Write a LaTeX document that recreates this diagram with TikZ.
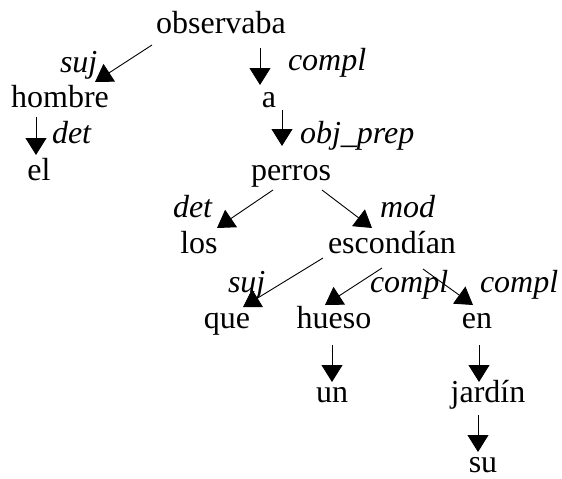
\documentclass[tikz,border=0pt]{standalone}
\usepackage{fontspec}
\setmainfont{Liberation Serif}
\usetikzlibrary{arrows.meta}
\begin{document}
\begin{tikzpicture}[x=1pt,y=-1pt,
  word/.style={anchor=base,inner sep=0pt,outer sep=0pt,font=\fontsize{32}{38}\selectfont},
  rel/.style={anchor=base west,inner sep=0pt,outer sep=0pt,font=\fontsize{32}{38}\selectfont\itshape},
  dep/.style={line width=0.9pt,-{Triangle[length=17pt,width=21pt]}}]
\useasboundingbox (0,0) rectangle (562,479);
% words
\node[word] (observaba) at (221,33) {observaba};
\node[word] (hombre) at (60,107) {hombre};
\node[word] (el) at (39,180) {el};
\node[word] (a) at (269,107) {a};
\node[word] (perros) at (291,180) {perros};
\node[word] (los) at (199,253) {los};
\node[word] (escondian) at (392,253) {escondían};
\node[word] (que) at (227,328) {que};
\node[word] (hueso) at (334,328) {hueso};
\node[word] (en) at (477,328) {en};
\node[word] (un) at (332,402) {un};
\node[word] (jardin) at (488,402) {jardín};
\node[word] (su) at (483,472) {su};
% relation labels
\node[rel] (l1) at (60,72) {suj};
\node[rel] (l2) at (288,70) {compl};
\node[rel] (l3) at (52,143) {det};
\node[rel] (l4) at (300,143) {obj\_prep};
\node[rel] (l5) at (173,217) {det};
\node[rel] (l6) at (380,217) {mod};
\node[rel] (l7) at (228,292) {suj};
\node[rel] (l8) at (370,292) {compl};
\node[rel] (l9) at (480,292) {compl};
% connector ends
\coordinate (c1s) at (152,45);  \coordinate (c1t) at (95,82);
\coordinate (c2s) at (260,48);  \coordinate (c2t) at (260,85);
\coordinate (c3s) at (36,117);  \coordinate (c3t) at (36,155);
\coordinate (c4s) at (282,110); \coordinate (c4t) at (282,146);
\coordinate (c5s) at (273,190); \coordinate (c5t) at (217,228);
\coordinate (c6s) at (322,190); \coordinate (c6t) at (372,228);
\coordinate (c7s) at (323,258); \coordinate (c7t) at (243,307);
\coordinate (c8s) at (382,268); \coordinate (c8t) at (325,305);
\coordinate (c9s) at (423,269); \coordinate (c9t) at (473,305);
\coordinate (c10s) at (332,345); \coordinate (c10t) at (332,382);
\coordinate (c11s) at (479,345); \coordinate (c11t) at (479,382);
\coordinate (c12s) at (478,415); \coordinate (c12t) at (478,452);
% connectors
\draw[dep] (c1s) -- (c1t);
\draw[dep] (c2s) -- (c2t);
\draw[dep] (c3s) -- (c3t);
\draw[dep] (c4s) -- (c4t);
\draw[dep] (c5s) -- (c5t);
\draw[dep] (c6s) -- (c6t);
\draw[dep] (c7s) -- (c7t);
\draw[dep] (c8s) -- (c8t);
\draw[dep] (c9s) -- (c9t);
\draw[dep] (c10s) -- (c10t);
\draw[dep] (c11s) -- (c11t);
\draw[dep] (c12s) -- (c12t);
\end{tikzpicture}
\end{document}
